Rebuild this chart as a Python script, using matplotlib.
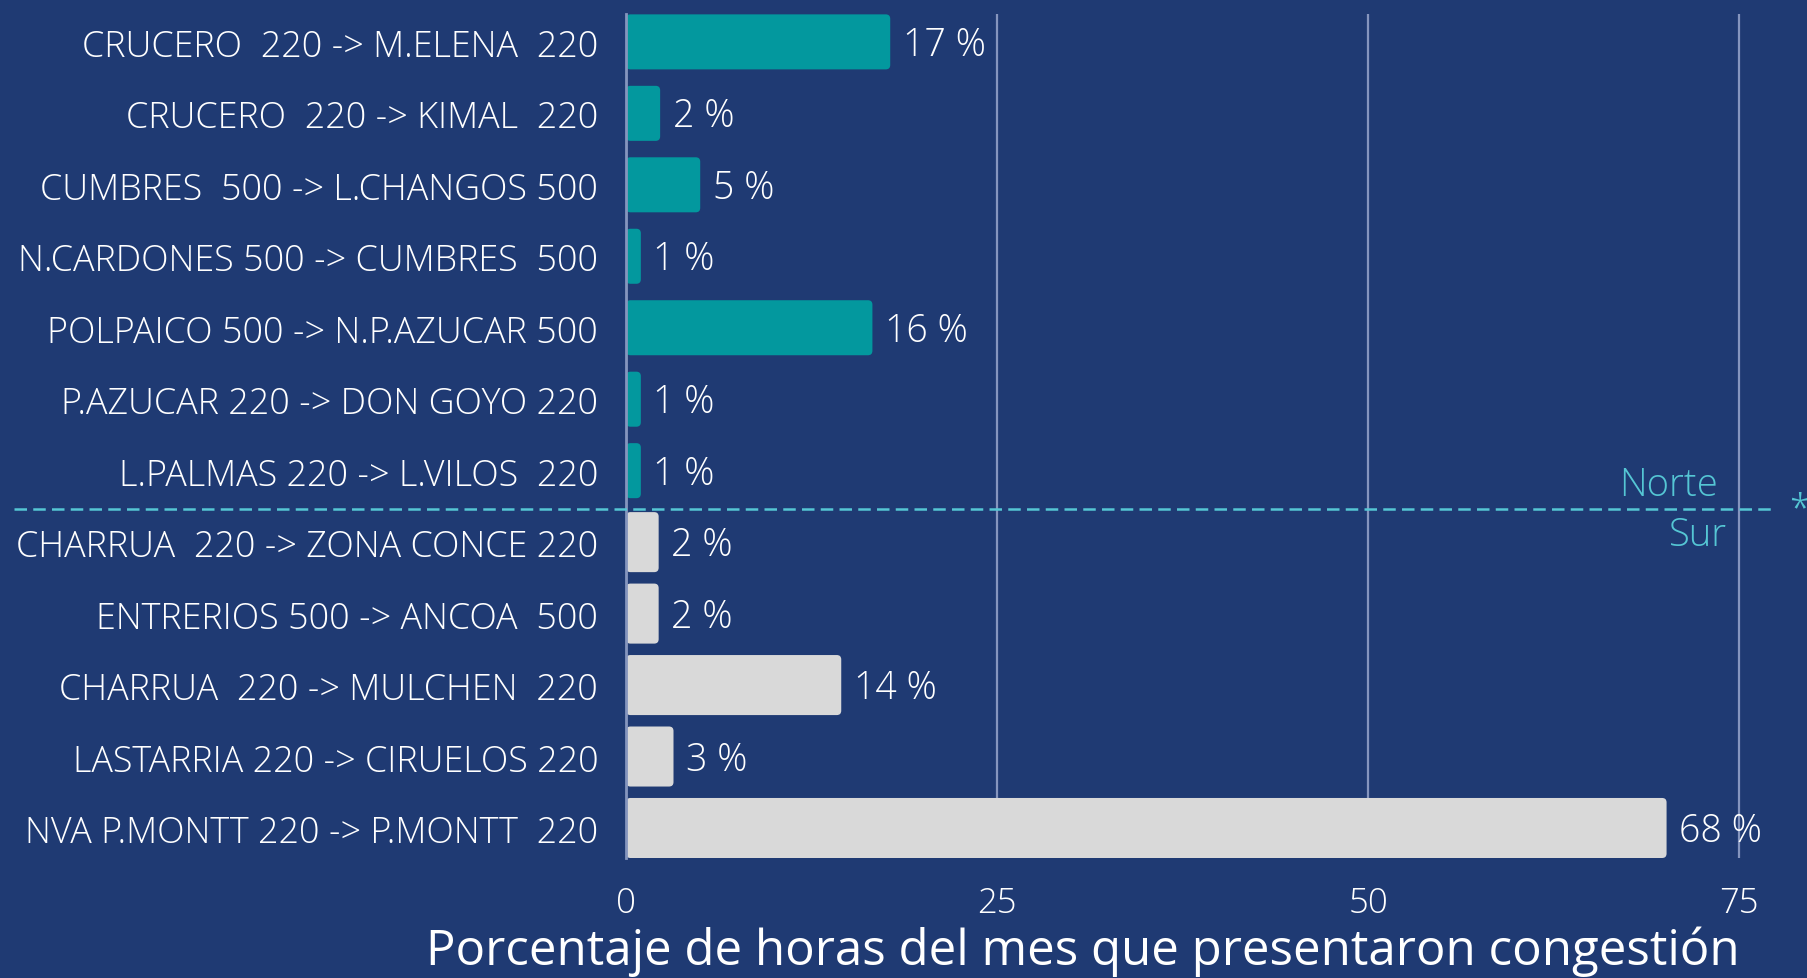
import matplotlib
matplotlib.use("Agg")
import matplotlib.pyplot as plt
import matplotlib.transforms as mtransforms
from matplotlib.patches import FancyBboxPatch

categories = [
    "CRUCERO  220 -> M.ELENA  220",
    "CRUCERO  220 -> KIMAL  220",
    "CUMBRES  500 -> L.CHANGOS 500",
    "N.CARDONES 500 -> CUMBRES  500",
    "POLPAICO 500 -> N.P.AZUCAR 500",
    "P.AZUCAR 220 -> DON GOYO 220",
    "L.PALMAS 220 -> L.VILOS  220",
    "CHARRUA  220 -> ZONA CONCE 220",
    "ENTRERIOS 500 -> ANCOA  500",
    "CHARRUA  220 -> MULCHEN  220",
    "LASTARRIA 220 -> CIRUELOS 220",
    "NVA P.MONTT 220 -> P.MONTT  220",
]
zones = ["Norte"] * 7 + ["Sur"] * 5
bar_values = [17.8, 2.3, 5.0, 1.0, 16.6, 1.0, 1.0, 2.2, 2.2, 14.5, 3.2, 70.1]
label_values = [17, 2, 5, 1, 16, 1, 1, 2, 2, 14, 3, 68]
xticks = [0, 25, 50, 75]
xlabel = "Porcentaje de horas del mes que presentaron congestión"

BG = "#1F3A73"
TEAL = "#03989E"
GRAY = "#D9D9D9"
CYAN = "#55C6D4"
GRID = "#8595BE"
FONT = "Open Sans"

W, H = 1808, 979
fig = plt.figure(figsize=(W / 100, H / 100), dpi=100, facecolor=BG)
ax_left, ax_right, ax_top, ax_bot = 626, 1769, 15, 859
ax = fig.add_axes([ax_left / W, 1 - ax_bot / H, (ax_right - ax_left) / W, (ax_bot - ax_top) / H])
ax.set_facecolor(BG)

n = len(categories)
ys = list(range(n))
colors = [TEAL if z == "Norte" else GRAY for z in zones]
heights = [0.77 if z == "Norte" else 0.84 for z in zones]
ax.set_xlim(0, 77)
ax.set_ylim(n - 1 + 0.42, -0.39)
bars = ax.barh(ys, bar_values, height=heights, color=colors, zorder=3)

# rounded bar corners
px_x = (ax_right - ax_left) / 77.0
px_y = (ax_bot - ax_top) / (n - 1 + 0.81)
for p in bars.patches:
    fb = FancyBboxPatch((p.get_x(), p.get_y()), p.get_width(), p.get_height(),
                        boxstyle="round,pad=0,rounding_size=0.3",
                        mutation_aspect=px_x / px_y,
                        facecolor=p.get_facecolor(), edgecolor="none", zorder=3)
    ax.add_patch(fb)
    p.set_visible(False)

ax.set_xticks(xticks)
ax.set_xticklabels([str(t) for t in xticks], fontsize=25, color="white",
                   fontfamily=FONT, fontweight="light")
ax.set_yticks(ys)
ax.set_yticklabels(categories, fontsize=25.8, color="white",
                   fontfamily=FONT, fontweight="light")
ax.tick_params(axis="x", length=0, pad=20)
ax.tick_params(axis="y", length=0, pad=20)
for s in ["top", "right", "bottom"]:
    ax.spines[s].set_visible(False)
ax.spines["left"].set_color(GRID)
ax.spines["left"].set_linewidth(2)
ax.spines["left"].set_zorder(4)
ax.xaxis.grid(True, color=GRID, linewidth=1.6, zorder=1)
ax.set_axisbelow(True)

for y, v, lab in zip(ys, bar_values, label_values):
    ax.annotate(f"{lab} %", xy=(v, y), xytext=(9, -2), textcoords="offset points",
                va="center", ha="left", fontsize=27, color="white",
                fontfamily=FONT, fontweight="light", zorder=5)

# divider between zones
split = zones.index("Sur") - 0.5
trans = mtransforms.blended_transform_factory(fig.transFigure, ax.transData)
ax.plot([14 / W, 1776 / W], [split + 0.04, split + 0.04], transform=trans, color=CYAN,
        linewidth=1.8, linestyle=(0, (5, 2.5)), clip_on=False, zorder=6)
ax.text(1799 / W, split + 0.04, "*", transform=trans, color=CYAN, fontsize=27,
        fontfamily=FONT, fontweight="light", ha="center", va="center")
ax.text(1718 / W, split - 0.3, "Norte", transform=trans, color=CYAN, fontsize=27.5,
        fontfamily=FONT, fontweight="light", ha="right", va="center")
ax.text(1727 / W, split + 0.4, "Sur", transform=trans, color=CYAN, fontsize=27.5,
        fontfamily=FONT, fontweight="light", ha="right", va="center")

fig.text(1083 / W, 1 - 952 / H, xlabel, color="white", fontsize=35.5,
         fontfamily=FONT, ha="center", va="center")

fig.savefig("out.png", dpi=100, facecolor=BG)
